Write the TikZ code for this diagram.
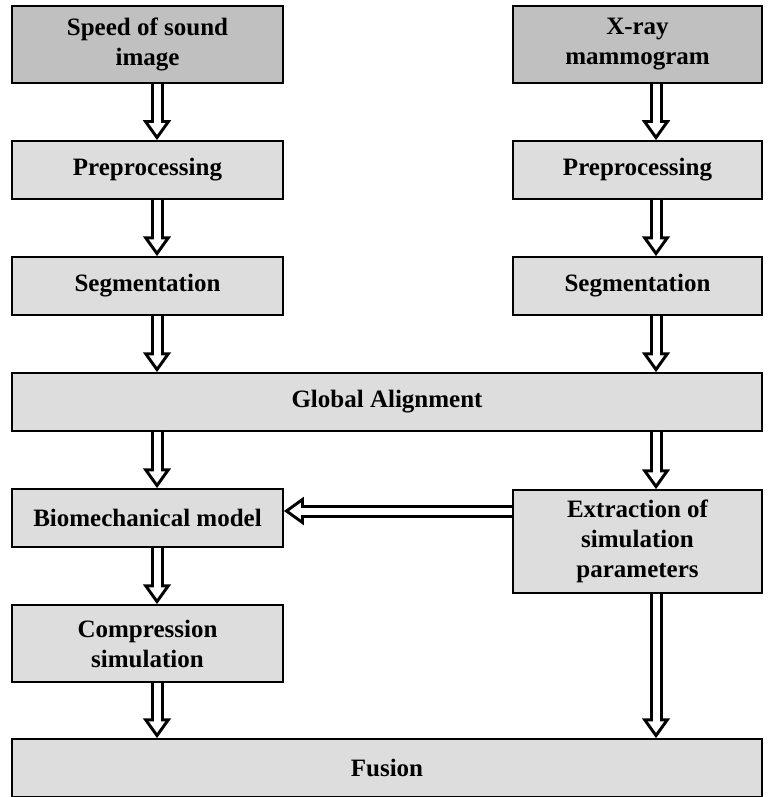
\documentclass[tikz,border=0pt]{standalone}
\usepackage{fontspec}
\setmainfont{Liberation Serif}
\usetikzlibrary{arrows.meta}
\definecolor{darkbox}{HTML}{C0C0C0}
\definecolor{lightbox}{HTML}{DDDDDD}
\tikzset{
    box/.style={
        draw,
        line width=1.5pt,
        fill=lightbox,
        inner sep=0pt,
        align=center,
        font=\fontsize{25}{30}\selectfont\bfseries},
    leftbox/.style={box, minimum width=271pt},
    rightbox/.style={box, minimum width=249pt},
    widebox/.style={box, minimum width=750pt},
    inputbox/.style={fill=darkbox},
    blockarrow/.style={
        draw,
        line width=13pt,
        -{Triangle[length=20pt,width=27pt]},
        postaction={
            draw=white,
            line width=7pt,
            -{Triangle[length=11.6pt,width=15.7pt]},
            shorten >=5.4pt}}}

\begin{document}
\begin{tikzpicture}[x=1pt,y=-1pt]
        \useasboundingbox (0,0) rectangle (774,797);
        \coordinate (lx) at (157,0);
        \coordinate (rx) at (656,0);
        \coordinate (hy) at (0,511);

        \node[leftbox,inputbox,minimum height=77pt] (sos) at (147.5,44.5) {Speed of sound\\image};
        \node[rightbox,inputbox,minimum height=77pt] (xray) at (637.5,44.5) {X-ray\\mammogram};
        \node[leftbox,minimum height=58pt] (pre1) at (147.5,170) {Preprocessing};
        \node[rightbox,minimum height=58pt] (pre2) at (637.5,170) {Preprocessing};
        \node[leftbox,minimum height=58pt] (seg1) at (147.5,286) {Segmentation};
        \node[rightbox,minimum height=58pt] (seg2) at (637.5,286) {Segmentation};
        \node[widebox,minimum height=58pt] (glob) at (387,402) {Global Alignment};
        \node[leftbox,minimum height=58pt] (bio) at (147.5,518) {Biomechanical model};
        \node[rightbox,minimum height=103pt] (ext) at (637.5,541.5) {Extraction of\\simulation\\parameters};
        \node[leftbox,minimum height=77pt] (comp) at (147.5,643.5) {Compression\\simulation};
        \node[widebox,minimum height=58pt] (fus) at (387,768) {Fusion};

        \draw (sos.south -| lx) edge[blockarrow] (pre1.north -| lx);
        \draw (pre1.south -| lx) edge[blockarrow] (seg1.north -| lx);
        \draw (seg1.south -| lx) edge[blockarrow] (glob.north -| lx);
        \draw (glob.south -| lx) edge[blockarrow] (bio.north -| lx);
        \draw (bio.south -| lx) edge[blockarrow] (comp.north -| lx);
        \draw (comp.south -| lx) edge[blockarrow] (fus.north -| lx);

        \draw (xray.south -| rx) edge[blockarrow] (pre2.north -| rx);
        \draw (pre2.south -| rx) edge[blockarrow] (seg2.north -| rx);
        \draw (seg2.south -| rx) edge[blockarrow] (glob.north -| rx);
        \draw (glob.south -| rx) edge[blockarrow] (ext.north -| rx);
        \draw (ext.south -| rx) edge[blockarrow] (fus.north -| rx);

        \draw (ext.west |- hy) edge[blockarrow] (bio.east |- hy);
    \end{tikzpicture}
\end{document}
